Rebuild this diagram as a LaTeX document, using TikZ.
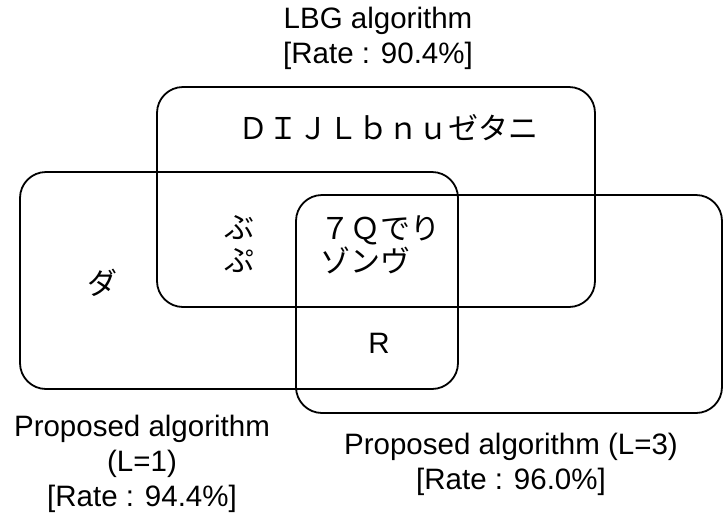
\documentclass[tikz,border=0pt]{standalone}
\usepackage{fontspec}
\setmainfont{Liberation Sans}
\newfontfamily\jp{Noto Sans CJK JP}
\begin{document}
\begin{tikzpicture}[x=1pt,y=-1pt,
  setbox/.style={draw, line width=1.8pt, rounded corners=26pt, inner sep=0pt},
  lbl/.style={font=\fontsize{29.5}{35}\selectfont, align=center, inner sep=0pt},
  jlbl/.style={font=\jp\fontsize{30}{33}\selectfont, align=left, inner sep=0pt}]
\useasboundingbox (0,0) rectangle (724,515);
\node[setbox, minimum width=438pt, minimum height=220pt] (lbg) at (376,197) {};
\node[setbox, minimum width=438pt, minimum height=217pt] (l1) at (239,280.5) {};
\node[setbox, minimum width=426pt, minimum height=218pt] (l3) at (509,304) {};
\node[lbl, anchor=base] (tlbg) at (378,63) {LBG algorithm\\{}[Rate : 90.4\%]};
\node[lbl, anchor=base] (tl1) at (142,506) {Proposed algorithm\\(L=1)\\{}[Rate : 94.4\%]};
\node[lbl, anchor=base] (tl3) at (511,489) {Proposed algorithm (L=3)\\{}[Rate : 96.0\%]};
\node[jlbl, anchor=west] (a) at (238,128) {ＤＩＪＬｂｎｕゼタニ};
\node[jlbl, anchor=center] (b) at (239,244.5) {ぶ\\ぷ};
\node[jlbl, anchor=west] (c) at (320,244.5) {７Ｑでり\\ゾンヴ};
\node[jlbl] (d) at (102,283) {ダ};
\node[lbl, anchor=base] (e) at (379,353) {R};
\end{tikzpicture}
\end{document}
